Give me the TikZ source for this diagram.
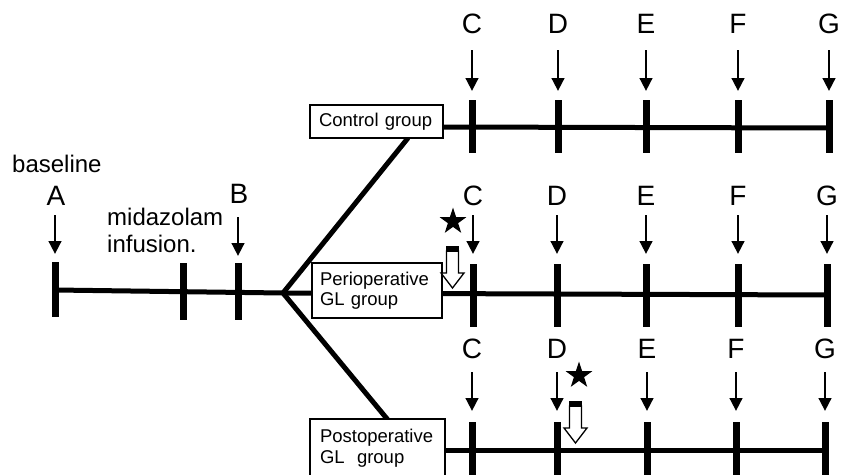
\documentclass[tikz,border=0pt]{standalone}
\usepackage{fontspec}
\setmainfont{Liberation Sans}
\usetikzlibrary{arrows.meta,shapes.geometric}
\begin{document}
\begin{tikzpicture}[x=1pt,y=-1pt,
  tick/.style={line width=7pt},
  mainline/.style={line width=5pt},
  ptr/.style={line width=2.8pt,-{Triangle[width=12.5pt,length=13pt]}},
  lett/.style={font=\fontsize{28}{30}\selectfont, inner sep=0pt},
  lbl/.style={font=\fontsize{24}{27}\selectfont, inner sep=0pt},
  grp/.style={draw, line width=1.3pt, fill=white, font=\fontsize{18.5}{20.5}\selectfont, align=left, inner ysep=0pt},
  starmark/.style={star, star points=5, star point ratio=2.6, fill=black, inner sep=0pt, minimum size=28pt},
  hollowdown/.pic={
    \filldraw[fill=white, line width=1.3pt, line join=miter] (-6,5) -- (-6,27) -- (-11.5,27) -- (0,42) -- (11.5,27) -- (6,27) -- (6,5) -- cycle;
    \fill (-6.7,0) rectangle (6.7,6);
  }
]
\useasboundingbox (0,0) rectangle (851,474);

% ---- left part
\coordinate (fork) at (283,293);
\coordinate (aL) at (55,290);
\draw[mainline] (aL) -- (fork);
\node[lbl, anchor=base west] (base) at (12,172) {baseline};
\node[lett, anchor=base] (A) at (56,205) {A};
\node[lett, anchor=base] (B) at (239,203) {B};
\node[lbl, anchor=base west] (mid1) at (107,225) {midazolam};
\node[lbl, anchor=base west] (mid2) at (107,252) {infusion.};
\coordinate (Aa) at (55,215); \coordinate (Ab) at (55,254);
\coordinate (Ba) at (238,217); \coordinate (Bb) at (238,256);
\draw[ptr] (Aa) -- (Ab);
\draw[ptr] (Ba) -- (Bb);
\coordinate (At) at (55,262); \coordinate (Au) at (55,317);
\coordinate (Mt) at (183,263); \coordinate (Mu) at (183,320);
\coordinate (Bt) at (238,263); \coordinate (Bu) at (238,320);
\draw[tick] (At) -- (Au);
\draw[tick] (Mt) -- (Mu);
\draw[tick] (Bt) -- (Bu);

% ---- branches
\coordinate (ctrlfoot) at (408,138);
\coordinate (postfoot) at (388,420);
\draw[mainline] (fork) -- (ctrlfoot);
\draw[mainline] (fork) -- (postfoot);

% ---- top row (control)
\coordinate (tstart) at (443,127);
\coordinate (tend) at (829,128);
\draw[mainline] (tstart) -- (tend);
\node[grp, text width=121pt, inner xsep=6pt, minimum height=33pt] (ctrl) at (376.5,121.5) {\hspace*{3pt}Control group};
\foreach \n/\x in {C/472,D/558,E/646,F/738,G/829}{
  \node[lett, anchor=base] (t\n) at (\x,33) {\n};
  \coordinate (ta\n) at (\x,50); \coordinate (tb\n) at (\x,91);
  \draw[ptr] (ta\n) -- (tb\n);
  \coordinate (tt\n) at (\x,100); \coordinate (tu\n) at (\x,153);
  \draw[tick] (tt\n) -- (tu\n);
}

% ---- middle row (perioperative)
\coordinate (mend) at (827,295);
\draw[mainline] (fork) -- (mend);
\node[grp, text width=118pt, inner xsep=6pt, minimum height=55pt] (peri) at (377,290.5) {\hspace*{2pt}Perioperative\\\hspace*{2pt}GL group};
\foreach \n/\x in {C/473,D/557,E/646,F/738,G/827}{
  \node[lett, anchor=base] (m\n) at (\x,205) {\n};
  \coordinate (ma\n) at (\x,215); \coordinate (mb\n) at (\x,254);
  \draw[ptr] (ma\n) -- (mb\n);
  \coordinate (mt\n) at (\x,264); \coordinate (mu\n) at (\x,327);
  \draw[tick] (mt\n) -- (mu\n);
}
\node[starmark] (star1) at (453,221.5) {};
\pic at (452.5,246) {hollowdown};

% ---- bottom row (postoperative)
\coordinate (bstart) at (445,450);
\coordinate (bend) at (825,450);
\draw[mainline] (bstart) -- (bend);
\node[grp, text width=123pt, inner xsep=6pt, minimum height=58pt] (post) at (377.5,448) {\hspace*{4pt}Postoperative\\\hspace*{4pt}GL\ \ group};
\foreach \n/\x in {C/472,D/557,E/647,F/736,G/825}{
  \node[lett, anchor=base] (b\n) at (\x,358) {\n};
  \coordinate (ba\n) at (\x,372); \coordinate (bb\n) at (\x,411);
  \draw[ptr] (ba\n) -- (bb\n);
  \coordinate (bt\n) at (\x,422); \coordinate (bu\n) at (\x,480);
  \draw[tick] (bt\n) -- (bu\n);
}
\node[starmark] (star2) at (579,375.5) {};
\pic at (575.5,401) {hollowdown};
\end{tikzpicture}
\end{document}
